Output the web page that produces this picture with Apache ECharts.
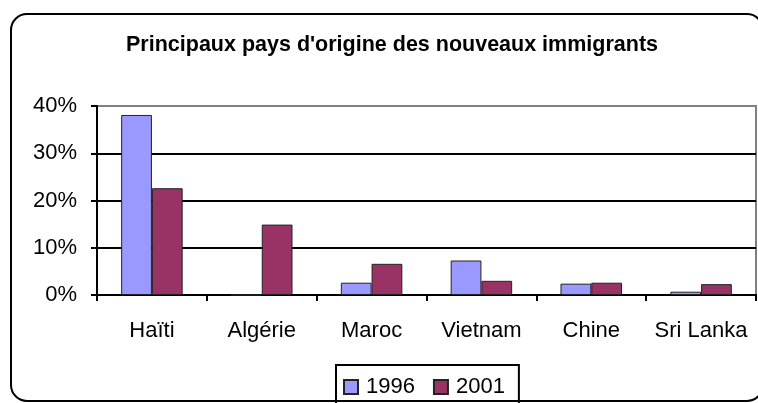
<!DOCTYPE html>
<html>
<head>
<meta charset="utf-8">
<script src="https://cdn.jsdelivr.net/npm/echarts@6/dist/echarts.min.js"></script>
<style>
  html, body { margin: 0; padding: 0; background: #fff; }
  #chart { width: 758px; height: 403px; }
</style>
</head>
<body>
<div id="chart"></div>
<script>
  // pays d'origine
  const categories = ['Haïti', 'Algérie', 'Maroc', 'Vietnam', 'Chine', 'Sri Lanka']
  const values1996 = [0.381, 0, 0.026, 0.073, 0.024, 0.007]
  const values2001 = [0.226, 0.149, 0.066, 0.030, 0.026, 0.023]
  const seriesNames = ['1996', '2001']
  const yTicks = [0, 0.1, 0.2, 0.3, 0.4]

  const font = '"Liberation Sans", Arial, sans-serif'
  const chart = echarts.init(document.getElementById('chart'))

  const option = {
    backgroundColor: '#ffffff',
    animation: false,
    textStyle: { fontFamily: font, color: '#000' },
    graphic: [{
      type: 'rect',
      shape: { x: 11, y: 14, width: 752, height: 387, r: 16 },
      style: { fill: 'none', stroke: '#000', lineWidth: 2 },
      z: 100
    }],
    title: {
      text: "Principaux pays d'origine des nouveaux immigrants",
      left: 121,
      top: 29,
      textStyle: { fontFamily: font, fontSize: 21.5, fontWeight: 'bold', color: '#000' }
    },
    legend: {
      data: seriesNames,
      left: 336,
      top: 365,
      icon: 'rect',
      itemWidth: 14,
      itemHeight: 14,
      itemGap: 18,
      padding: [11, 14, 20, 7],
      borderColor: '#000',
      borderWidth: 2,
      textStyle: { fontFamily: font, fontSize: 22, color: '#000', padding: [0, 0, 0, 3] }
    },
    grid: {
      left: 97,
      right: 2,
      top: 106,
      bottom: 108,
      show: true,
      borderColor: '#808080',
      borderWidth: 2
    },
    xAxis: {
      type: 'category',
      data: categories,
      axisLine: { lineStyle: { color: '#000', width: 2 } },
      axisTick: { show: true, length: 6, interval: 0, lineStyle: { color: '#000', width: 2 } },
      axisLabel: { margin: 25, fontSize: 22, color: '#000', fontFamily: font, interval: 0 }
    },
    yAxis: {
      type: 'value',
      min: yTicks[0],
      max: yTicks[yTicks.length - 1],
      interval: 0.1,
      axisLine: { show: true, lineStyle: { color: '#000', width: 2 } },
      axisTick: { show: true, length: 6, lineStyle: { color: '#000', width: 2 } },
      axisLabel: {
        margin: 20,
        fontSize: 22,
        color: '#000',
        fontFamily: font,
        padding: [5, 0, 0, 0],
        formatter: v => Math.round(v * 100) + '%'
      },
      splitLine: { show: true, showMaxLine: false, lineStyle: { color: '#000', width: 2 } }
    },
    series: [{
      name: seriesNames[0],
      type: 'bar',
      data: values1996,
      barGap: '0%',
      barCategoryGap: '44%',
      itemStyle: { color: '#9999FF', borderColor: '#222', borderWidth: 1 }
    }, {
      name: seriesNames[1],
      type: 'bar',
      data: values2001,
      itemStyle: { color: '#993366', borderColor: '#222', borderWidth: 1 }
    }]
  }
  chart.setOption(option)
</script>
</body>
</html>
